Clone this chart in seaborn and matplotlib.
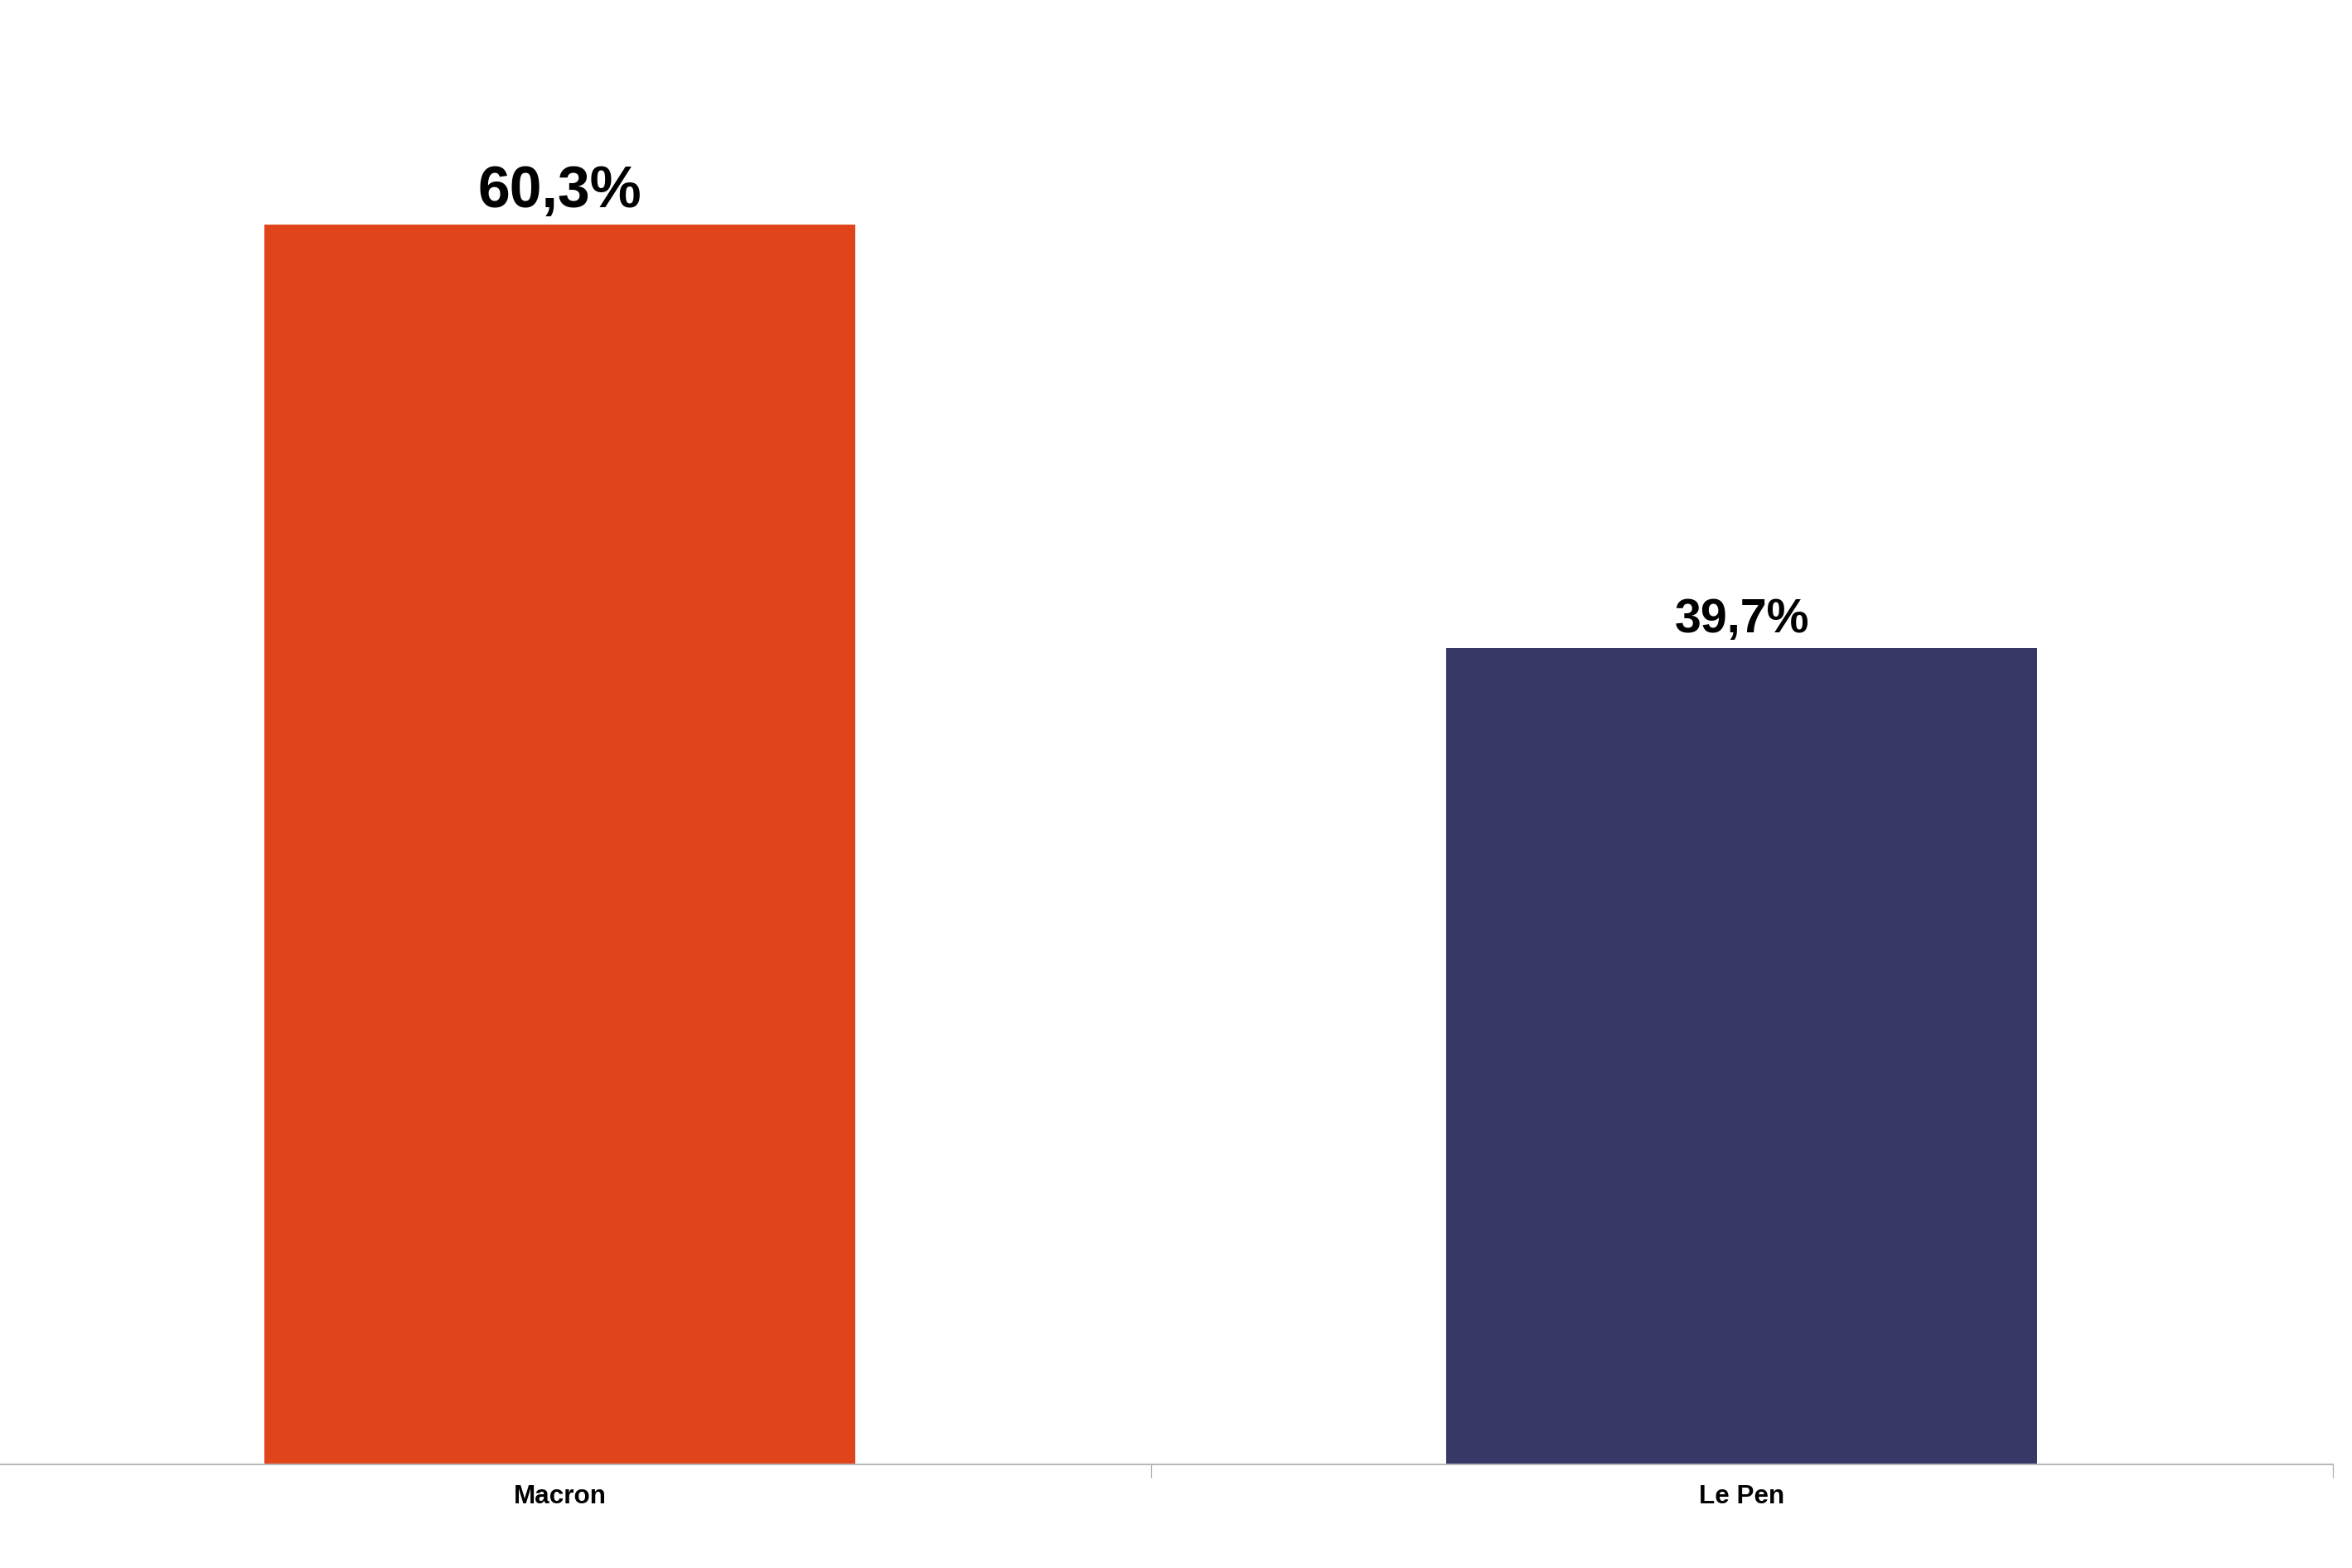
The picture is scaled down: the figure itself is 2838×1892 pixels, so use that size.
import matplotlib
matplotlib.use("Agg")
import matplotlib.pyplot as plt
import seaborn as sns
import pandas as pd

candidates = ["Macron", "Le Pen"]
shares = [60.3, 39.7]
value_labels = ["60,3%", "39,7%"]
bar_colors = ["#E0441B", "#373866"]

sns.set_theme(style="white")
plt.rcParams["font.family"] = ["Liberation Sans", "DejaVu Sans"]

df = pd.DataFrame({"candidate": candidates, "share": shares})

DPI = 200
fig = plt.figure(figsize=(2838 / DPI, 1892 / DPI), dpi=DPI)
fig.patch.set_facecolor("white")
ax = fig.add_axes([0.0, 1 - 1767 / 1892, 2815 / 2838, 1767 / 1892])

sns.barplot(data=df, x="candidate", y="share", hue="candidate",
            palette=dict(zip(candidates, bar_colors)), width=0.5,
            saturation=1, legend=False, ax=ax, order=candidates,
            linewidth=0)

ax.set_xlim(-0.4735, 1.5)
ax.set_ylim(0, 71.22)

for sp in ["top", "left", "right"]:
    ax.spines[sp].set_visible(False)
ax.spines["bottom"].set_color("#b8b8b8")
ax.spines["bottom"].set_linewidth(0.7)

ax.set_xlabel("")
ax.set_ylabel("")
ax.set_yticks([])
ax.set_xticks(range(len(candidates)))
ax.set_xticklabels(candidates, fontweight="bold", fontsize=11.3, color="black")
ax.tick_params(axis="x", which="major", bottom=True, length=0, pad=8.6)
ax.set_xticks([0.5, 1.5], minor=True)
ax.tick_params(axis="x", which="minor", bottom=True, length=5.8, width=0.45,
               color="#b0b0b0", direction="out")

label_sizes = [25.1, 20.6]
label_offsets = [7.6, 6.8]
for i, (v, txt) in enumerate(zip(shares, value_labels)):
    ax.annotate(txt, xy=(i, v), xytext=(0, label_offsets[i]), textcoords="offset points",
                ha="center", va="baseline", fontsize=label_sizes[i],
                fontweight="bold", color="black")

ax.set_facecolor("white")
fig.savefig("out.png", dpi=DPI, facecolor="white")
